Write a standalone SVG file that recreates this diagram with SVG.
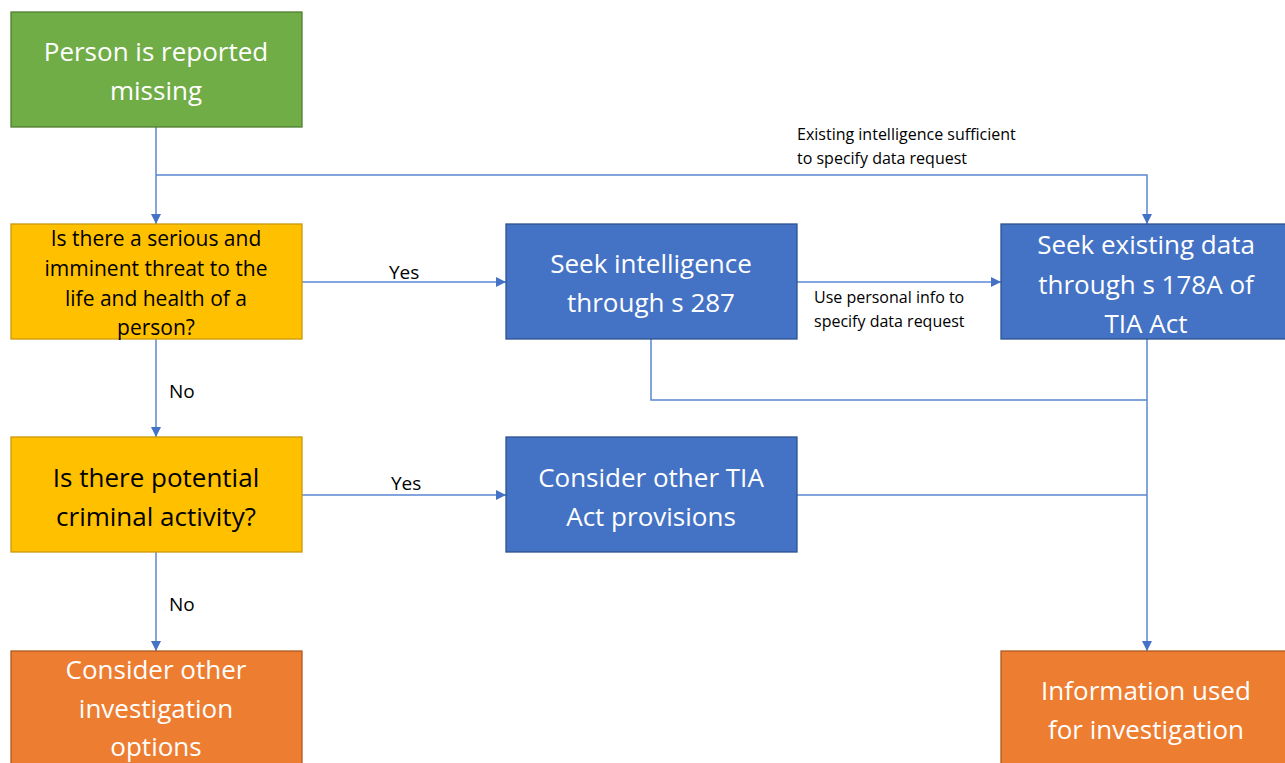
<svg xmlns="http://www.w3.org/2000/svg" width="1285" height="763" viewBox="0 0 1285 763">
<style>
.box{stroke-width:1.3}
.g{fill:#70AD47;stroke:#507E32}
.y{fill:#FFC000;stroke:#C9980A}
.b{fill:#4472C4;stroke:#2F528F}
.o{fill:#ED7D31;stroke:#AE5A21}
text{font-family:"Open Sans","Noto Sans","Liberation Sans",sans-serif;text-anchor:middle;dominant-baseline:central}
.w{fill:#FFFFFF;font-size:26px}
.k{fill:#000000;font-size:26px}
.ks{fill:#000000;font-size:21px}
.lbl{fill:#000000;font-size:19px;text-anchor:start}
.sm{fill:#000000;font-size:16px;text-anchor:start}
.c{fill:none;stroke:#5A86D2;stroke-width:1.5}
</style>
<defs>
<marker id="ah" viewBox="0 0 10 10" refX="10" refY="5" markerWidth="10" markerHeight="10" markerUnits="userSpaceOnUse" orient="auto">
<path d="M0,0 L10,5 L0,10 z" fill="#4472C4"/>
</marker>
</defs>
<rect width="1285" height="763" fill="#FFFFFF"/>
<g id="connectors">
<path class="c" d="M156,127 V224" marker-end="url(#ah)"/>
<path class="c" d="M156,175 H1147 V224" marker-end="url(#ah)"/>
<path class="c" d="M302,282 H506" marker-end="url(#ah)"/>
<path class="c" d="M797,282 H1001" marker-end="url(#ah)"/>
<path class="c" d="M156,339 V437" marker-end="url(#ah)"/>
<path class="c" d="M302,495 H506" marker-end="url(#ah)"/>
<path class="c" d="M156,552 V651" marker-end="url(#ah)"/>
<path class="c" d="M651,339 V400 H1147"/>
<path class="c" d="M797,495 H1147"/>
<path class="c" d="M1147,339 V651" marker-end="url(#ah)"/>
<text class="sm" x="797" y="134">Existing intelligence sufficient</text>
<text class="sm" x="797" y="158">to specify data request</text>
<text class="sm" x="814" y="297">Use personal info to</text>
<text class="sm" x="814" y="321">specify data request</text>
<text class="lbl" x="389" y="272">Yes</text>
<text class="lbl" x="391" y="483">Yes</text>
<text class="lbl" x="169" y="391">No</text>
<text class="lbl" x="169" y="604">No</text>
</g>
<g id="n-missing">
<rect class="box g" x="11" y="12" width="291" height="115"/>
<text class="w" x="156" y="51">Person is reported</text>
<text class="w" x="156" y="90">missing</text>
</g>
<g id="n-threat">
<rect class="box y" x="11" y="224" width="291" height="115"/>
<text class="ks" x="156" y="238">Is there a serious and</text>
<text class="ks" x="156" y="268">imminent threat to the</text>
<text class="ks" x="156" y="298">life and health of a</text>
<text class="ks" x="156" y="327">person?</text>
</g>
<g id="n-criminal">
<rect class="box y" x="11" y="437" width="291" height="115"/>
<text class="k" x="156" y="477">Is there potential</text>
<text class="k" x="156" y="516">criminal activity?</text>
</g>
<g id="n-other-options">
<rect class="box o" x="11" y="651" width="291" height="125"/>
<text class="w" x="156" y="669">Consider other</text>
<text class="w" x="156" y="708">investigation</text>
<text class="w" x="156" y="746">options</text>
</g>
<g id="n-s287">
<rect class="box b" x="506" y="224" width="291" height="115"/>
<text class="w" x="651" y="263">Seek intelligence</text>
<text class="w" x="651" y="302">through s 287</text>
</g>
<g id="n-s178a">
<rect class="box b" x="1001" y="224" width="291" height="115"/>
<text class="w" x="1146" y="244">Seek existing data</text>
<text class="w" x="1146" y="284">through s 178A of</text>
<text class="w" x="1146" y="323">TIA Act</text>
</g>
<g id="n-other-tia">
<rect class="box b" x="506" y="437" width="291" height="115"/>
<text class="w" x="651" y="477">Consider other TIA</text>
<text class="w" x="651" y="516">Act provisions</text>
</g>
<g id="n-info-used">
<rect class="box o" x="1001" y="651" width="291" height="125"/>
<text class="w" x="1146" y="690">Information used</text>
<text class="w" x="1146" y="729">for investigation</text>
</g>
</svg>
